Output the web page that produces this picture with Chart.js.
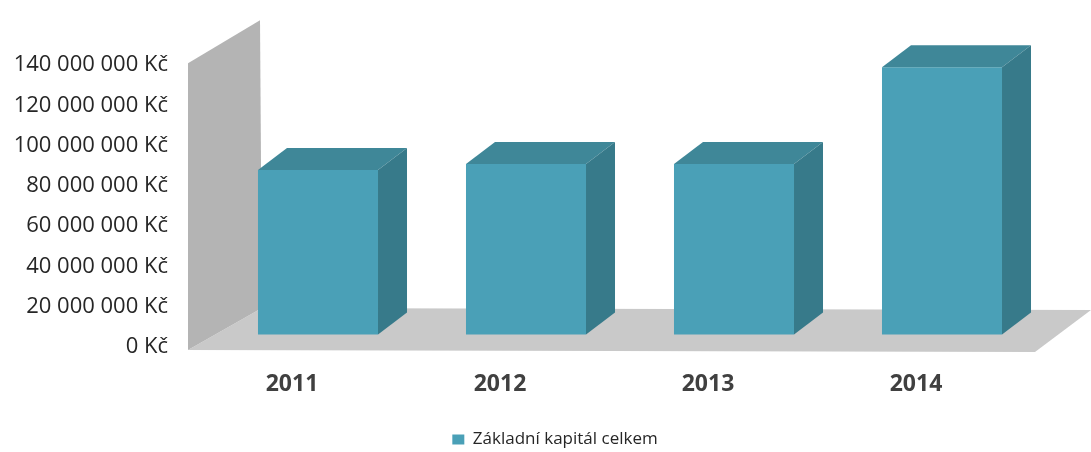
<!DOCTYPE html>
<html>
<head>
<meta charset="utf-8">
<script src="https://cdn.jsdelivr.net/npm/chart.js@4.4.1/dist/chart.umd.min.js"></script>
<style>
  html, body { margin: 0; padding: 0; background: #fff; }
  #wrap { width: 1091px; height: 452px; }
</style>
</head>
<body>
<div id="wrap"><canvas id="c"></canvas></div>
<script>
// data
const years = ["2011", "2012", "2013", "2014"];
const capital = [82000000, 85000000, 85000000, 133000000];
const yTickValues = [0, 20000000, 40000000, 60000000, 80000000, 100000000, 120000000, 140000000];
const seriesName = "Základní kapitál celkem";

// depth of the fake 3D
const DX = 29, DY = -22;

function kc(v) {
  return String(v).replace(/\B(?=(\d{3})+(?!\d))/g, " ") + " Kč";
}

function poly(ctx, pts, fill) {
  ctx.beginPath();
  ctx.moveTo(pts[0][0], pts[0][1]);
  for (let i = 1; i < pts.length; i++) ctx.lineTo(pts[i][0], pts[i][1]);
  ctx.closePath();
  ctx.fillStyle = fill;
  ctx.fill();
}

// wall + floor under the bars, top + side faces on them
const box3d = {
  id: "box3d",
  beforeDatasetsDraw(chart) {
    const { ctx, chartArea: a } = chart;
    ctx.save();
    // floor
    poly(ctx, [
      [a.left - 26, a.bottom + 15],
      [a.right - 11, a.bottom + 17],
      [a.right + 45, a.bottom - 25],
      [a.left + 48, a.bottom - 27]
    ], "#c9c9c9");
    // left wall
    poly(ctx, [
      [a.left - 26, a.bottom + 15],
      [a.left - 26, a.top + 10],
      [a.left + 46, a.top - 33],
      [a.left + 48, a.bottom - 27]
    ], "#b4b4b4");
    ctx.restore();
  },
  afterDatasetsDraw(chart) {
    const { ctx } = chart;
    ctx.save();
    chart.getDatasetMeta(0).data.forEach((bar) => {
      const { x, y, base, width } = bar.getProps(["x", "y", "base", "width"], true);
      const l = x - width / 2, r = x + width / 2;
      poly(ctx, [[l, y], [l + DX, y + DY], [r + DX, y + DY], [r, y]], "#3f8798");
      poly(ctx, [[r, y], [r + DX, y + DY], [r + DX, base + DY], [r, base]], "#377a8a");
    });
    ctx.restore();
  }
};

new Chart(document.getElementById("c"), {
  type: "bar",
  data: {
    labels: years,
    datasets: [{
      label: seriesName,
      data: capital,
      backgroundColor: "#4aa0b7",
      borderWidth: 0,
      categoryPercentage: 1,
      barPercentage: 0.577
    }]
  },
  options: {
    responsive: true,
    maintainAspectRatio: false,
    animation: false,
    layout: { padding: { top: 28, right: -19, bottom: -6, left: 0 } },
    plugins: {
      tooltip: { enabled: false },
      legend: {
        position: "bottom",
        labels: {
          color: "#262626",
          boxWidth: 12,
          boxHeight: 10,
          padding: 6,
          font: { family: "Open Sans", size: 17 }
        }
      }
    },
    scales: {
      x: {
        afterFit(axis) { axis.height = 90; },
        grid: { display: false, drawTicks: false },
        border: { display: false },
        ticks: {
          color: "#404040",
          padding: 36,
          labelOffset: -26,
          font: { family: "Open Sans", size: 23, weight: "bold" }
        }
      },
      y: {
        min: 0,
        max: 140000000,
        afterBuildTicks(axis) {
          axis.ticks = yTickValues.map((v) => ({ value: v }));
        },
        afterFit(axis) { axis.width = 214; },
        // invisible tick marks just to push the labels left
        grid: { display: true, drawOnChartArea: false, drawTicks: true, tickLength: 6, color: "rgba(0,0,0,0)" },
        border: { display: false },
        ticks: {
          color: "#262626",
          padding: 40,
          labelOffset: 12,
          font: { family: "Open Sans", size: 22 },
          callback: (v) => kc(v)
        }
      },
      // empty right margin so the legend sits where it does in the picture
      yRight: {
        position: "right",
        min: 0,
        max: 140000000,
        afterFit(axis) { axis.width = 64; },
        grid: { display: false, drawTicks: false },
        border: { display: false },
        ticks: { display: false }
      }
    }
  },
  plugins: [box3d]
});
</script>
</body>
</html>
